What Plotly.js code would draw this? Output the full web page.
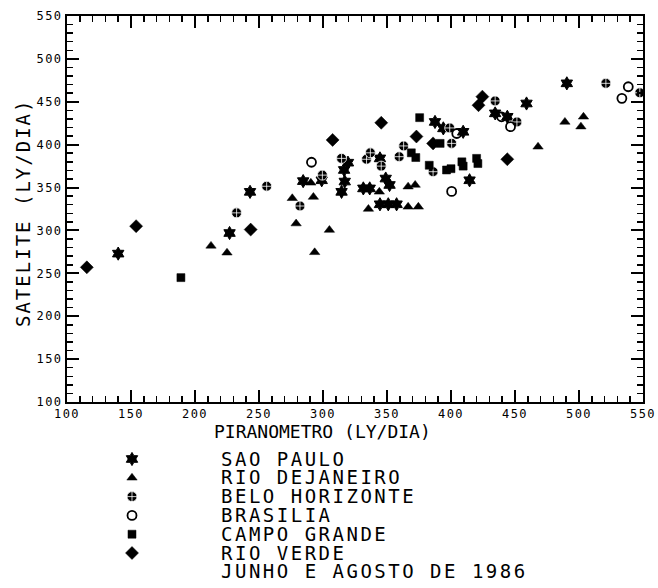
<!DOCTYPE html>
<html>
<head>
<meta charset="utf-8">
<script src="https://cdn.plot.ly/plotly-3.0.1.min.js"></script>
<style>
  html, body { margin: 0; padding: 0; background: #fff; }
  #chart { width: 658px; height: 588px; }
  .xtick text, .ytick text { letter-spacing: 1.5px; }
  .y2tick text { letter-spacing: 2.5px; }
  g.annotation[data-index="1"] text { letter-spacing: 2px; }
</style>
</head>
<body>
<div id="chart"></div>
<script>
// ---- data ----
const seriesNames = ["SAO PAULO", "RIO DEJANEIRO", "BELO HORIZONTE", "BRASILIA", "CAMPO GRANDE", "RIO VERDE"];
const noteLabel = "JUNHO E AGOSTO DE 1986";

const spX = [140, 227, 243, 284.5, 316.5, 317, 314.5, 319.5, 331.5, 336.5, 344.5, 344.5, 351, 357.5, 349, 352, 387.5, 394, 409.5, 414.5, 434.5, 444, 459, 490.5, 299];
const spY = [273, 297, 345, 357.5, 370.5, 357, 345, 379, 349, 349, 384, 330.5, 330.5, 330.5, 360.5, 353, 426.5, 419, 415, 358.5, 436.5, 432.5, 448, 471.5, 358.5];

const rjX = [212.5, 225, 279, 276, 290.5, 292.5, 293.5, 305, 335.5, 344, 366.5, 374.5, 366.5, 372, 468, 489, 503.5, 501.5];
const rjY = [282, 274, 308, 337.5, 355.5, 339, 274.5, 300.5, 325, 345, 327.5, 327.5, 351, 353, 397.5, 426.5, 432.5, 421];

const bhX = [232.5, 256, 282, 299.5, 314.5, 334, 337, 345.5, 359.5, 363, 386, 399, 400.5, 434.5, 451.5, 521, 547.5];
const bhY = [320.5, 351.5, 328.5, 364.5, 384, 383, 390.5, 375, 386, 398.5, 368.5, 419.5, 401.5, 451, 426.5, 471.5, 460.5];

const brX = [291, 400.5, 404.5, 439.5, 446.5, 533.5, 538.5];
const brY = [379.5, 345.5, 413, 432.5, 421, 454, 467.5];

const cgX = [189, 369, 372.5, 375.5, 383, 396.5, 400, 408.5, 409.5, 421, 420, 391.5];
const cgY = [245, 390.5, 385, 431.5, 376, 370.5, 372, 380, 375, 378, 384, 401.5];

const rvX = [115.5, 154, 243.5, 307.5, 345.5, 373, 386, 421.5, 424.5, 444];
const rvY = [257, 305, 301, 405.5, 425.5, 409.5, 401.5, 446, 456, 383];

const xTitle = "PIRANOMETRO (LY/DIA)";
const yTitle = "SATELITE (LY/DIA)";

// ---- styles ----
const markers = [
  {symbol: "hexagram", size: 10, color: "#000", line: {color: "#000", width: 1}},
  {symbol: "triangle-up", size: 9, color: "#000", line: {color: "#000", width: 0.5}},
  {symbol: "circle-cross", size: 10, color: "#000", line: {color: "#fff", width: 0.8}},
  {symbol: "circle-open", size: 9, color: "#000", line: {color: "#000", width: 1.8}},
  {symbol: "square", size: 8, color: "#000", line: {color: "#000", width: 0.5}},
  {symbol: "diamond", size: 10, color: "#000", line: {color: "#000", width: 0.5}}
];
const seriesX = [spX, rjX, bhX, brX, cgX, rvX];
const seriesY = [spY, rjY, bhY, brY, cgY, rvY];

const MONO = "DejaVu Sans Mono";
const KEY_X = 0;

const traces = [];
seriesNames.forEach((name, i) => {
  traces.push({
    type: "scatter", mode: "markers", name: name,
    x: seriesX[i], y: seriesY[i],
    marker: markers[i], showlegend: false, hoverinfo: "skip"
  });
});
// legend key column, drawn on a small categorical axis below the plot
const legendCats = seriesNames.concat([noteLabel]);
traces.push({
  type: "scatter", mode: "markers", x: legendCats.map(() => KEY_X), y: legendCats,
  xaxis: "x2", yaxis: "y2", marker: {opacity: 0}, showlegend: false, hoverinfo: "skip"
});
seriesNames.forEach((name, i) => {
  traces.push({
    type: "scatter", mode: "markers", x: [KEY_X], y: [name],
    xaxis: "x2", yaxis: "y2", marker: markers[i], showlegend: false, hoverinfo: "skip"
  });
});

function mainAxis(extra) {
  return Object.assign({
    showgrid: false, zeroline: false, showline: true, linecolor: "#000", linewidth: 2,
    mirror: "ticks", ticks: "inside", ticklen: 12, tickwidth: 2, tickcolor: "#000",
    tickfont: {family: MONO, size: 12, color: "#000"},
    minor: {dtick: 10, ticks: "inside", ticklen: 6, tickwidth: 1.5, tickcolor: "#000"}
  }, extra);
}

const layout = {
  width: 658, height: 588,
  margin: {l: 67, r: 15, t: 16, b: 4, autoexpand: false},
  showlegend: false,
  xaxis: mainAxis({range: [100, 550], tickmode: "linear", tick0: 100, dtick: 50, anchor: "y"}),
  yaxis: mainAxis({range: [100, 550], tickmode: "linear", tick0: 100, dtick: 50, domain: [0.32042, 1], anchor: "x"}),
  xaxis2: {
    domain: [0.07465, 0.265625], range: [-1, 4], visible: false, anchor: "y2", fixedrange: true
  },
  yaxis2: {
    domain: [0.00493, 0.23662], anchor: "x2", side: "right",
    type: "category", categoryorder: "array", categoryarray: legendCats,
    tickmode: "array", tickvals: legendCats, ticktext: legendCats,
    range: [legendCats.length - 0.5, -0.5],
    showgrid: false, zeroline: false, showline: false, ticks: "",
    tickfont: {family: MONO, size: 19, color: "#000"}
  },
  annotations: [
    {text: xTitle, xref: "paper", yref: "paper", x: 0.2512, y: 0.2685,
     xanchor: "left", yanchor: "middle", showarrow: false,
     font: {family: MONO, size: 18, color: "#000"}},
    {text: yTitle, xref: "paper", yref: "paper", x: -0.0773, y: 0.654,
     xanchor: "center", yanchor: "middle", textangle: -90, showarrow: false,
     font: {family: MONO, size: 19, color: "#000"}}
  ],
  hovermode: false
};

Plotly.newPlot("chart", traces, layout, {displayModeBar: false, staticPlot: true});
</script>
</body>
</html>
